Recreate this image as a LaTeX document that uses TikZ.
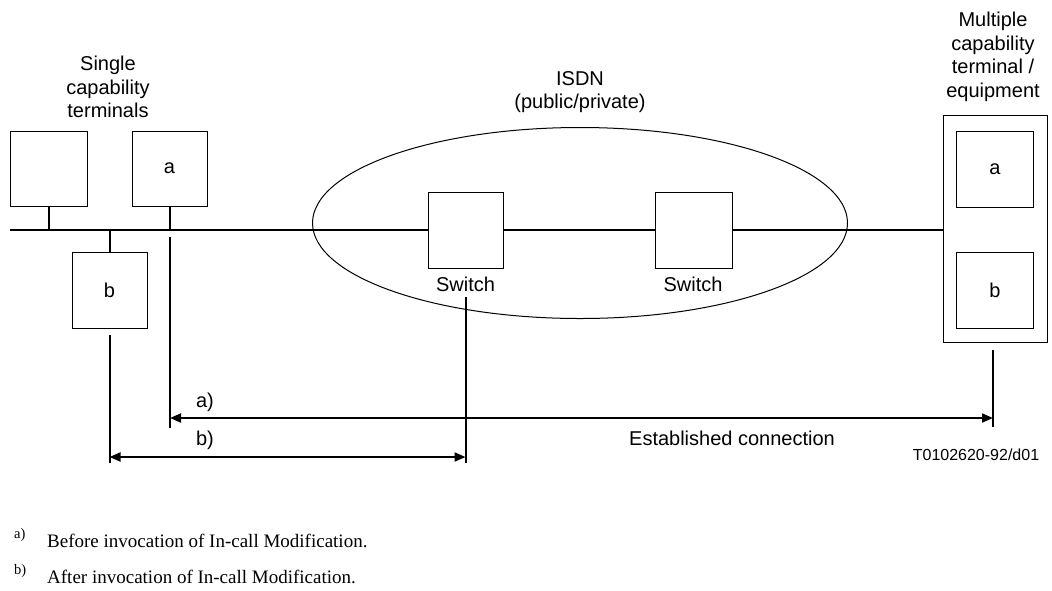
\documentclass[tikz,border=0pt]{standalone}
\usepackage{fontspec}
\setmainfont{Liberation Serif}
\newfontfamily\arialfont{Liberation Sans}
\usetikzlibrary{arrows.meta,shapes.geometric}
\newcommand{\lblfont}{\arialfont\fontsize{20}{23.5}\selectfont}
\newcommand{\tnofont}{\arialfont\fontsize{16}{19}\selectfont}
\newcommand{\notefont}{\fontsize{19}{22}\selectfont}
\newcommand{\supfont}{\fontsize{14.5}{16}\selectfont}
\begin{document}
\begin{tikzpicture}[x=1pt,y=-1pt,
  box/.style={draw,line width=1pt,fill=white,inner sep=0pt,minimum width=76pt,minimum height=76pt,font=\lblfont},
  thick line/.style={line width=2pt},
  lbl/.style={font=\lblfont,align=center,inner sep=0pt},
  arr/.style={line width=2pt,{Triangle[length=11pt,width=9pt]}-{Triangle[length=11pt,width=9pt]}},
]
\useasboundingbox (0,0) rectangle (1052,590);
% ISDN cloud
\node[draw,line width=1pt,ellipse,minimum width=535pt,minimum height=191pt,inner sep=0pt] (isdn) at (580,223) {};
% right equipment
\node[draw,line width=1pt,fill=white,inner sep=0pt,minimum width=104pt,minimum height=227pt] (mc) at (995,228.5) {};
% bus
\coordinate (busL) at (10,230);
\draw[thick line] (busL) -- (busL -| mc.west);
% left terminals
\node[box,minimum width=77pt,minimum height=75pt] (t1) at (48.5,168.5) {};
\node[box,minimum width=75pt,minimum height=75pt] (ta) at (169.5,168.5) {a};
\node[box,minimum width=75pt,minimum height=76pt] (tb) at (109.5,290) {b};
\draw[thick line] (t1.south) -- (t1.south |- busL);
\draw[thick line] (ta.south) -- (ta.south |- busL);
\draw[thick line] (tb.north) -- (tb.north |- busL);
% switches
\node[box,minimum width=75pt,minimum height=76pt] (sw1) at (465.5,230) {};
\node[box,minimum width=77pt,minimum height=76pt] (sw2) at (694,230) {};
\node[lbl,anchor=base] (sw1l) at (465.5,291) {Switch};
\node[lbl,anchor=base] (sw2l) at (693,291) {Switch};
% inner right boxes
\node[box,minimum width=77pt,minimum height=76pt] (ma) at (995,169) {a};
\node[box,minimum width=77pt,minimum height=76pt] (mb) at (995,290) {b};
% titles
\node[lbl] (single) at (108,87) {Single\\capability\\terminals};
\node[lbl] (isdnl) at (580,92) {ISDN\\(public/private)};
\node[lbl] (multi) at (993,57) {Multiple\\capability\\terminal /\\equipment};
% drop lines
\coordinate (aTop) at (170,237);
\coordinate (aBot) at (170,428);
\coordinate (bTop) at (109.5,335);
\coordinate (bBot) at (109.5,463);
\coordinate (sTop) at (465.5,297);
\coordinate (sBot) at (465.5,463);
\coordinate (mTop) at (993,350);
\coordinate (mBot) at (993,427);
\draw[thick line] (aTop) -- (aBot);
\draw[thick line] (bTop) -- (bBot);
\draw[thick line] (sTop) -- (sBot);
\draw[thick line] (mTop) -- (mBot);
\draw[arr] (aTop |- 0,418) -- (mTop |- 0,418);
\draw[arr] (bTop |- 0,457) -- (sTop |- 0,457);
\node[lbl] (la) at (205,402) {a)};
\node[lbl] (lb) at (205,440) {b)};
\node[lbl] (est) at (732,438) {Established connection};
\node[font=\tnofont,inner sep=0pt] (tno) at (976,455) {T0102620-92/d01};
% footnotes
\node[font=\supfont,inner sep=0pt,anchor=base west] (fa) at (14,538) {a)};
\node[font=\notefont,inner sep=0pt,anchor=base west] (fat) at (47,547) {Before invocation of In-call Modification.};
\node[font=\supfont,inner sep=0pt,anchor=base west] (fb) at (14,574) {b)};
\node[font=\notefont,inner sep=0pt,anchor=base west] (fbt) at (47,583) {After invocation of In-call Modification.};
\end{tikzpicture}
\end{document}
